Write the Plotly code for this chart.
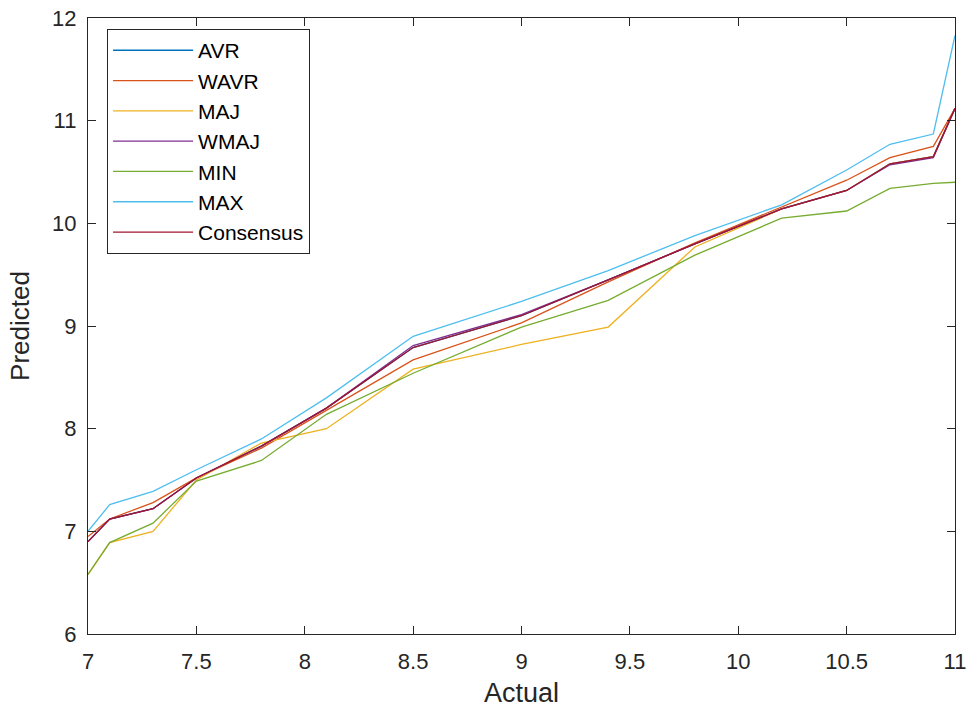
import plotly.graph_objects as go

actual = [7.0, 7.1, 7.3, 7.5, 7.8, 8.1, 8.5, 9.0, 9.4, 9.8, 10.2, 10.5, 10.7, 10.9, 11.0]

avr = [6.90, 7.12, 7.22, 7.52, 7.83, 8.20, 8.79, 9.10, 9.45, 9.80, 10.14, 10.32, 10.58, 10.65, 11.12]
wavr = [6.95, 7.12, 7.28, 7.52, 7.81, 8.18, 8.67, 9.03, 9.43, 9.81, 10.16, 10.42, 10.64, 10.75, 11.12]
maj = [6.58, 6.89, 7.00, 7.50, 7.86, 8.00, 8.58, 8.82, 8.99, 9.77, 10.14, 10.32, 10.58, 10.65, 11.12]
wmaj = [6.90, 7.12, 7.22, 7.52, 7.83, 8.20, 8.81, 9.11, 9.45, 9.80, 10.14, 10.32, 10.57, 10.64, 11.12]
mins = [6.58, 6.89, 7.08, 7.49, 7.69, 8.14, 8.54, 8.99, 9.25, 9.69, 10.05, 10.12, 10.34, 10.39, 10.40]
maxs = [7.00, 7.26, 7.39, 7.60, 7.90, 8.30, 8.90, 9.24, 9.54, 9.88, 10.18, 10.52, 10.77, 10.87, 11.83]
consensus = [6.90, 7.12, 7.22, 7.52, 7.83, 8.20, 8.79, 9.10, 9.45, 9.80, 10.14, 10.32, 10.58, 10.65, 11.12]

x_ticks = [7, 7.5, 8, 8.5, 9, 9.5, 10, 10.5, 11]
x_ticklabels = ["7", "7.5", "8", "8.5", "9", "9.5", "10", "10.5", "11"]
y_ticks = [6, 7, 8, 9, 10, 11, 12]

series = [
    ("AVR", avr, "#0072BD"),
    ("WAVR", wavr, "#D95319"),
    ("MAJ", maj, "#EDB120"),
    ("WMAJ", wmaj, "#7E2F8E"),
    ("MIN", mins, "#77AC30"),
    ("MAX", maxs, "#4DBEEE"),
    ("Consensus", consensus, "#A2142F"),
]

fig = go.Figure()
for name, vals, col in series:
    fig.add_trace(go.Scatter(x=actual, y=vals, mode="lines", name=name,
                             line=dict(color=col, width=1.3)))

font_fam = "Liberation Sans, Arial, Helvetica"
axis_common = dict(
    showgrid=False, zeroline=False, showline=True, linecolor="#262626", linewidth=1.3,
    mirror="ticks", ticks="inside", ticklen=8, tickcolor="#262626", tickwidth=1.3,
    tickfont=dict(family=font_fam, size=22, color="#262626"),
    automargin=False,
)

fig.update_layout(
    width=968, height=710,
    margin=dict(l=88, r=13, t=18, b=76),
    paper_bgcolor="white", plot_bgcolor="white",
    xaxis=dict(range=[7, 11], tickvals=x_ticks, ticktext=x_ticklabels,
               ticklabelstandoff=7,
               title=dict(text="Actual", font=dict(family=font_fam, size=27, color="#262626"), standoff=10),
               **axis_common),
    yaxis=dict(range=[6, 12], tickvals=y_ticks, ticklabelstandoff=6,
               title=dict(text="Predicted", font=dict(family=font_fam, size=26, color="#262626"), standoff=14),
               **axis_common),
    legend=dict(x=0.022, y=0.982, xanchor="left", yanchor="top",
                bgcolor="white", bordercolor="#262626", borderwidth=1,
                font=dict(family=font_fam, size=21, color="black"),
                itemwidth=80, tracegroupgap=0, entrywidth=125, entrywidthmode="pixels"),
    showlegend=True,
)

fig.write_html("out.html", config={"displayModeBar": False},
               post_script="document.body.style.margin='0px';document.body.style.overflow='hidden';")
